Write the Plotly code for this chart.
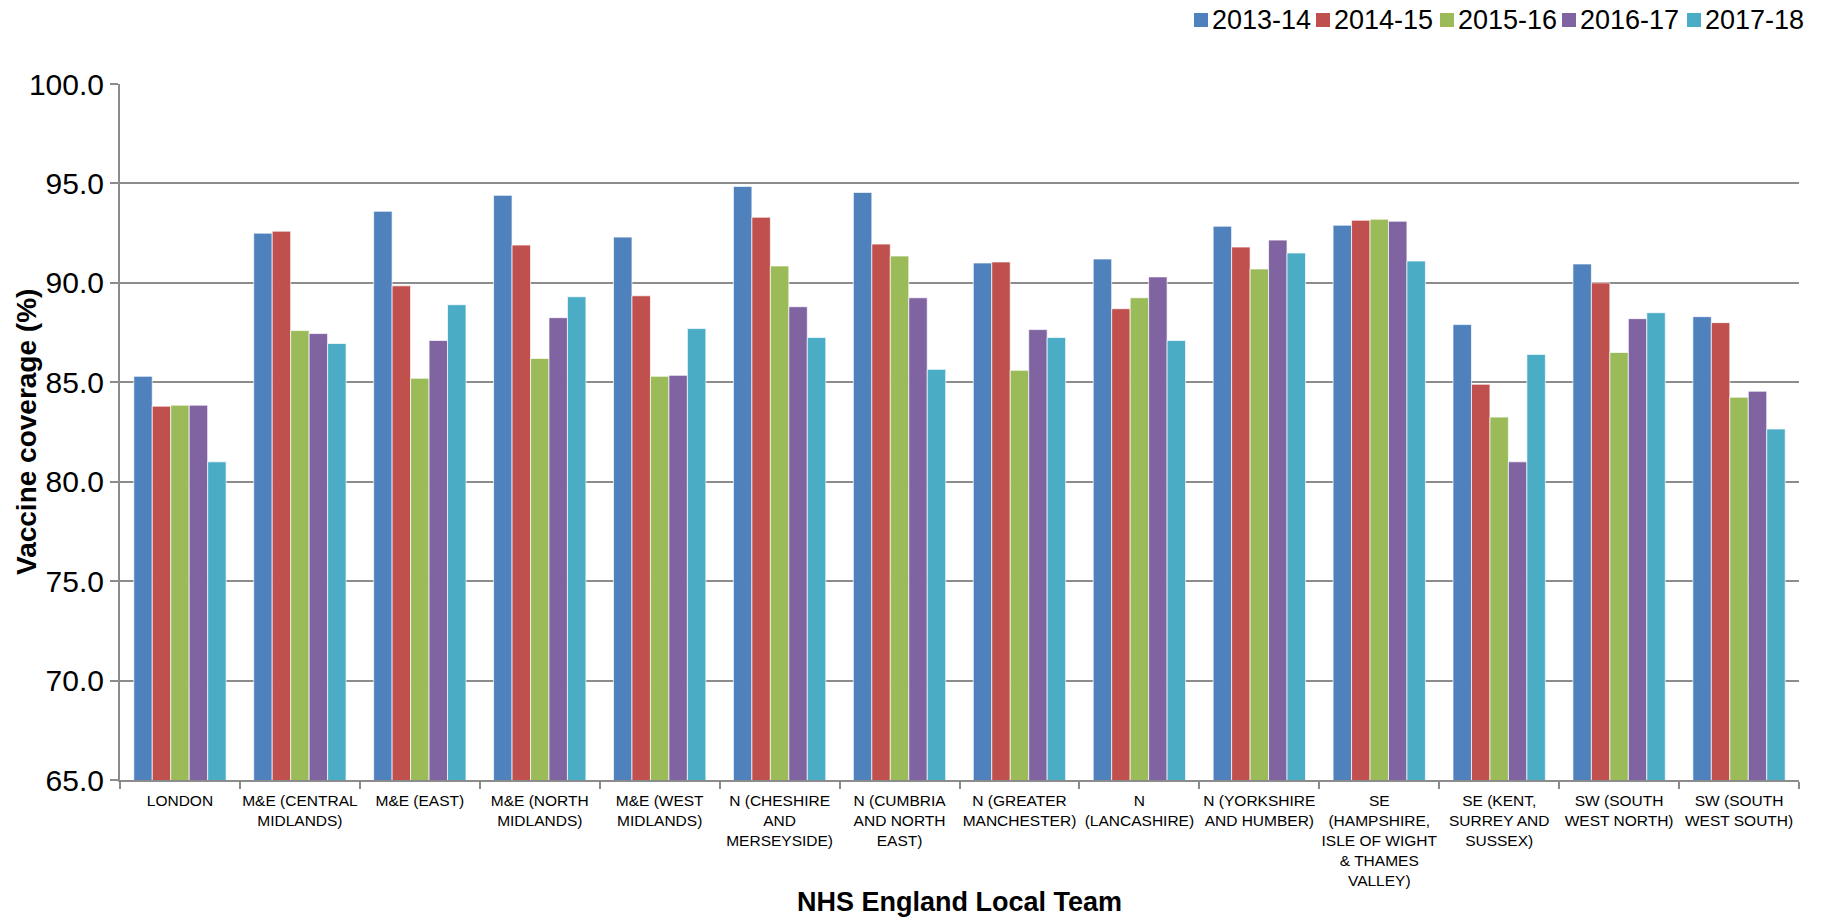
import plotly.graph_objects as go

# NHS England local teams (x categories)
teams = [
    "LONDON",
    "M&E (CENTRAL<br>MIDLANDS)",
    "M&E (EAST)",
    "M&E (NORTH<br>MIDLANDS)",
    "M&E (WEST<br>MIDLANDS)",
    "N (CHESHIRE<br>AND<br>MERSEYSIDE)",
    "N (CUMBRIA<br>AND NORTH<br>EAST)",
    "N (GREATER<br>MANCHESTER)",
    "N<br>(LANCASHIRE)",
    "N (YORKSHIRE<br>AND HUMBER)",
    "SE<br>(HAMPSHIRE,<br>ISLE OF WIGHT<br>& THAMES<br>VALLEY)",
    "SE (KENT,<br>SURREY AND<br>SUSSEX)",
    "SW (SOUTH<br>WEST NORTH)",
    "SW (SOUTH<br>WEST SOUTH)",
]

# Vaccine coverage (%) by year
cov_2013_14 = [85.3, 92.5, 93.6, 94.4, 92.3, 94.85, 94.55, 91.0, 91.2, 92.85, 92.9, 87.9, 90.95, 88.3]
cov_2014_15 = [83.8, 92.6, 89.85, 91.9, 89.35, 93.3, 91.95, 91.05, 88.7, 91.8, 93.15, 84.9, 90.0, 88.0]
cov_2015_16 = [83.85, 87.6, 85.2, 86.2, 85.3, 90.85, 91.35, 85.6, 89.25, 90.7, 93.2, 83.25, 86.5, 84.25]
cov_2016_17 = [83.85, 87.45, 87.1, 88.25, 85.35, 88.8, 89.25, 87.65, 90.3, 92.15, 93.1, 81.0, 88.2, 84.55]
cov_2017_18 = [81.0, 86.95, 88.9, 89.3, 87.7, 87.25, 85.65, 87.25, 87.1, 91.5, 91.1, 86.4, 88.5, 82.65]

years = ["2013-14", "2014-15", "2015-16", "2016-17", "2017-18"]
series = [cov_2013_14, cov_2014_15, cov_2015_16, cov_2016_17, cov_2017_18]
colors = ["#4F81BD", "#C0504D", "#9BBB59", "#8064A2", "#4BACC6"]

y_ticks = [65, 70, 75, 80, 85, 90, 95, 100]

FONT = "Liberation Sans, Arial, sans-serif"
W, H = 1832, 918
M_L, M_R, M_T, M_B = 120, 33, 84, 138
PW, PH = W - M_L - M_R, H - M_T - M_B


def px_x(px):
    """Figure pixel column -> paper x."""
    return (px - M_L) / PW


def px_y(py):
    """Figure pixel row (from top) -> paper y."""
    return (H - M_B - py) / PH


fig = go.Figure()
for name, vals, col in zip(years, series, colors):
    fig.add_trace(go.Bar(
        x=teams, y=vals, name=name, showlegend=False,
        marker=dict(color=col, line=dict(color="rgba(255,255,255,0.7)", width=1)),
    ))

# Legend row along the top right: colour key + year label
legend_left_px = [1194, 1316, 1440, 1562, 1687]
legend_row_px = 20
key_size = 14
shapes, annotations = [], []
for name, col, lx in zip(years, colors, legend_left_px):
    shapes.append(dict(
        type="rect", xref="paper", yref="paper",
        x0=px_x(lx), x1=px_x(lx + key_size),
        y0=px_y(legend_row_px + key_size / 2), y1=px_y(legend_row_px - key_size / 2),
        fillcolor=col, line=dict(width=0),
    ))
    annotations.append(dict(
        text=name, xref="paper", yref="paper",
        x=px_x(lx + key_size + 2), y=px_y(legend_row_px),
        xanchor="left", yanchor="middle", showarrow=False,
        font=dict(size=27, family=FONT),
    ))

annotations += [
    dict(text="<b>NHS England Local Team</b>", xref="paper", yref="paper",
         x=0.5, y=px_y(902), xanchor="center", yanchor="middle",
         showarrow=False, font=dict(size=27, family=FONT)),
    dict(text="<b>Vaccine coverage (%)</b>", xref="paper", yref="paper",
         x=px_x(26), y=0.5, xanchor="center", yanchor="middle",
         textangle=-90, showarrow=False, font=dict(size=28, family=FONT)),
]

fig.update_layout(
    width=W, height=H,
    paper_bgcolor="white", plot_bgcolor="white",
    margin=dict(l=M_L, r=M_R, t=M_T, b=M_B),
    barmode="group", bargap=0.23, bargroupgap=0,
    font=dict(family=FONT, color="black"),
    showlegend=False,
    xaxis=dict(
        type="category", tickangle=0,
        showline=True, linecolor="#8C8C8C", linewidth=2,
        ticks="outside", tickson="boundaries", ticklen=7, tickcolor="#8C8C8C", tickwidth=2,
        tickfont=dict(size=15.5, family=FONT), ticklabelstandoff=5,
        showgrid=False,
    ),
    yaxis=dict(
        range=[65, 100], tickvals=y_ticks, tickformat=".1f",
        showline=True, linecolor="#8C8C8C", linewidth=2,
        ticks="outside", ticklen=8, tickcolor="#8C8C8C", tickwidth=2,
        showgrid=True, gridcolor="#8C8C8C", gridwidth=2,
        tickfont=dict(size=30, family=FONT),
        zeroline=False,
    ),
    shapes=shapes,
    annotations=annotations,
)

fig.write_html("out.html")
